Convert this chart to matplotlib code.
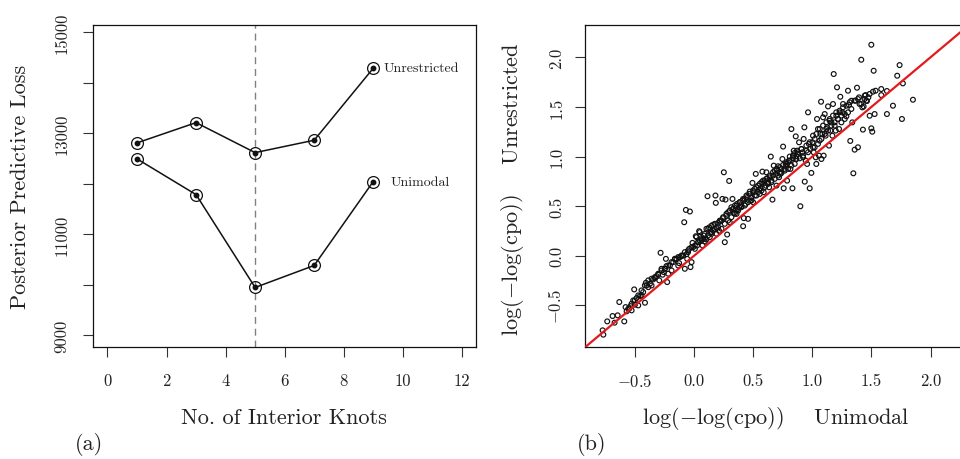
import matplotlib
matplotlib.use("Agg")
import matplotlib.pyplot as plt

plt.rcParams['font.family'] = ['cmr10', 'DejaVu Serif']
plt.rcParams['mathtext.fontset'] = 'cm'
plt.rcParams['axes.unicode_minus'] = True

# ---------------- Panel (a) data ----------------
knots = [1, 3, 5, 7, 9]
loss_unrestricted = [12808, 13210, 12615, 12861, 14288]
loss_unimodal = [12491, 11783, 9942, 10378, 12042]
xticks_a = [0, 2, 4, 6, 8, 10, 12]
yticks_a = [9000, 10000, 11000, 12000, 13000, 14000, 15000]
ylabels_a = ['9000', '', '11000', '', '13000', '', '15000']
selected_knots = 5

# ---------------- Panel (b) data ----------------
cpo_unimodal = [
    -0.773, -0.767, -0.734, -0.689, -0.672, -0.646, -0.632, -0.590, -0.579, -0.570,
    -0.548, -0.537, -0.528, -0.514, -0.506, -0.500, -0.486, -0.472, -0.458, -0.444,
    -0.430, -0.415, -0.407, -0.401, -0.387, -0.373, -0.359, -0.345, -0.331, -0.317,
    -0.303, -0.294, -0.283, -0.275, -0.266, -0.255, -0.247, -0.238, -0.233, -0.227,
    -0.218, -0.204, -0.190, -0.176, -0.162, -0.148, -0.134, -0.126, -0.120, -0.106,
    -0.092, -0.083, -0.078, -0.069, -0.064, -0.058, -0.050, -0.041, -0.035, -0.030,
    -0.021, -0.013, -0.007, 0.007, 0.015, 0.026, 0.035, 0.043, 0.049, 0.063,
    0.072, 0.083, 0.091, 0.105, 0.114, 0.119, 0.128, 0.139, 0.148, 0.162,
    0.176, 0.181, 0.184, 0.190, 0.204, 0.212, 0.218, 0.232, 0.240, 0.246,
    0.252, 0.260, 0.266, 0.274, 0.280, 0.288, 0.297, 0.302, 0.316, 0.325,
    0.330, 0.336, 0.345, 0.353, 0.359, 0.364, 0.373, 0.381, 0.387, 0.401,
    0.409, 0.415, 0.421, 0.429, 0.437, 0.443, 0.457, 0.466, 0.471, 0.477,
    0.485, 0.494, 0.499, 0.505, 0.513, 0.522, 0.528, 0.542, 0.550, 0.556,
    0.561, 0.570, 0.578, 0.584, 0.589, 0.598, 0.606, 0.612, 0.618, 0.626,
    0.635, 0.640, 0.649, 0.654, 0.663, 0.668, 0.674, 0.682, 0.691, 0.697,
    0.702, 0.711, 0.719, 0.725, 0.730, 0.739, 0.747, 0.753, 0.758, 0.767,
    0.775, 0.781, 0.787, 0.795, 0.803, 0.809, 0.815, 0.823, 0.832, 0.837,
    0.843, 0.851, 0.860, 0.865, 0.871, 0.879, 0.888, 0.894, 0.899, 0.908,
    0.916, 0.922, 0.927, 0.933, 0.936, 0.944, 0.950, 0.956, 0.964, 0.972,
    0.978, 0.984, 0.992, 1.001, 1.006, 1.012, 1.020, 1.029, 1.034, 1.040,
    1.048, 1.057, 1.062, 1.068, 1.074, 1.077, 1.085, 1.091, 1.096, 1.105,
    1.113, 1.119, 1.124, 1.133, 1.141, 1.147, 1.153, 1.161, 1.170, 1.175,
    1.181, 1.189, 1.198, 1.203, 1.209, 1.217, 1.226, 1.231, 1.237, 1.246,
    1.254, 1.260, 1.274, 1.288, 1.302, 1.310, 1.321, 1.330, 1.338, 1.347,
    1.358, 1.367, 1.378, 1.386, 1.395, 1.400, 1.414, 1.423, 1.428, 1.434,
    1.442, 1.451, 1.462, 1.474, 1.485, 1.499, 1.499, 1.507, 1.513, 1.519,
    1.527, 1.535, 1.583, 1.583, 1.631, 1.631, 1.682, 1.718, 1.738, 1.758,
    1.766, 1.851,
    0.021, 0.049, 0.077, 0.091, 0.105, 0.133, 0.148, 0.162, 0.176, 0.190,
    0.204, 0.218, 0.232, 0.246, 0.260, 0.274, 0.288, 0.302, 0.316, 0.330,
    0.345, 0.359, 0.373, 0.387, 0.401, 0.415, 0.429, 0.443, 0.457, 0.471,
    0.485, 0.499, 0.514, 0.528, 0.542, 0.556, 0.570, 0.584, 0.598, 0.612,
    0.626, 0.640, 0.654, 0.668, 0.682, 0.697, 0.711, 0.725, 0.739, 0.753,
    0.767, 0.781, 0.795, 0.809, 0.823, 0.837, 0.851, 0.865,
    0.837, 0.865, 0.879, 0.908, 0.922, 0.950, 0.964, 0.978, 1.006, 1.020,
    1.034, 1.048, 1.063, 1.077, 1.091, 1.105, 1.119, 1.133, 1.147, 1.161,
    1.175, 1.189, 1.203, 1.217, 1.231, 1.246, 1.260, 1.274, 1.288, 1.302,
    1.316, 1.330, 1.358, 1.386, 1.414, 1.443, 1.457, 1.485,
    -0.556, -0.528, -0.500, -0.472, -0.444, -0.416, -0.387, -0.359, -0.331, -0.303,
    -0.275, -0.247, -0.218, -0.190, -0.162, -0.134, -0.106, -0.078, -0.050, -0.021,
    0.007, 0.035, 0.063, 0.091, 0.119, 0.148,
]
cpo_unrestricted = [
    -0.751, -0.795, -0.661, -0.607, -0.674, -0.600, -0.466, -0.661, -0.517, -0.560,
    -0.533, -0.507, -0.550, -0.450, -0.339, -0.493, -0.426, -0.500, -0.406, -0.399,
    -0.366, -0.473, -0.272, -0.299, -0.316, -0.282, -0.299, -0.238, -0.225, -0.205,
    -0.191, -0.248, 0.030, -0.131, -0.191, -0.165, -0.131, -0.031, -0.104, -0.265,
    -0.181, -0.098, -0.148, -0.064, -0.037, -0.031, -0.098, -0.074, -0.014, -0.004,
    0.003, 0.338, -0.131, 0.462, 0.016, -0.031, 0.037, 0.070, 0.446, -0.114,
    -0.064, 0.130, 0.087, 0.070, 0.197, 0.104, 0.137, 0.248, 0.154, 0.177,
    0.104, 0.204, 0.144, 0.164, 0.600, 0.271, 0.285, 0.238, 0.221, 0.312,
    0.271, 0.607, 0.533, 0.278, 0.332, 0.251, 0.345, 0.355, 0.573, 0.379,
    0.841, 0.137, 0.566, 0.405, 0.214, 0.439, 0.754, 0.338, 0.489, 0.573,
    0.472, 0.432, 0.506, 0.456, 0.422, 0.523, 0.472, 0.489, 0.540, 0.499,
    0.556, 0.298, 0.379, 0.573, 0.523, 0.607, 0.372, 0.623, 0.647, 0.556,
    0.590, 0.734, 0.540, 0.640, 0.674, 0.825, 0.607, 0.707, 0.667, 0.623,
    0.680, 0.741, 0.848, 0.724, 0.640, 0.757, 0.707, 0.841, 0.781, 0.741,
    0.690, 0.791, 0.999, 0.757, 0.566, 0.808, 0.908, 0.858, 0.825, 0.707,
    0.875, 0.902, 0.791, 0.841, 0.825, 0.875, 0.975, 1.100, 0.680, 0.875,
    0.925, 0.908, 0.757, 0.942, 0.959, 0.999, 0.875, 1.277, 0.680, 1.009,
    1.059, 1.036, 1.203, 0.975, 1.059, 1.026, 1.143, 0.982, 0.499, 1.076,
    1.042, 0.992, 1.177, 1.294, 0.747, 0.959, 1.059, 0.925, 1.445, 1.126,
    0.680, 1.076, 0.835, 1.143, 1.210, 1.042, 1.093, 0.992, 0.925, 1.378,
    1.277, 1.009, 1.160, 1.227, 1.552, 0.975, 1.227, 1.395, 1.009, 1.428,
    1.210, 1.277, 1.294, 1.505, 1.110, 1.361, 1.261, 1.344, 1.210, 1.529,
    1.831, 1.311, 1.261, 1.411, 1.697, 1.378, 1.277, 1.445, 1.602, 1.344,
    1.445, 1.529, 1.378, 1.405, 1.663, 1.519, 1.157, 1.562, 1.344, 0.831,
    1.069, 1.562, 1.693, 1.093, 1.596, 1.529, 1.975, 1.495, 1.271, 1.505,
    1.579, 1.619, 1.559, 1.596, 1.411, 2.126, 1.284, 1.250, 1.653, 1.864,
    1.428, 1.663, 1.680, 1.619, 1.428, 1.660, 1.512, 1.814, 1.921, 1.378,
    1.737, 1.572,
    0.188, 0.238, 0.171, 0.221, 0.272, 0.188, 0.305, 0.255, 0.322, 0.221,
    0.288, 0.355, 0.272, 0.389, 0.322, 0.423, 0.355, 0.456, 0.389, 0.473,
    0.423, 0.506, 0.456, 0.540, 0.490, 0.573, 0.506, 0.590, 0.540, 0.624,
    0.557, 0.657, 0.607, 0.691, 0.641, 0.724, 0.657, 0.758, 0.691, 0.775,
    0.724, 0.808, 0.741, 0.842, 0.775, 0.875, 0.808, 0.892, 0.835, 0.915,
    0.858, 0.942, 0.875, 0.959, 0.909, 0.983, 0.926, 1.003,
    1.009, 0.976, 1.043, 1.076, 1.009, 1.110, 1.043, 1.144, 1.093, 1.177,
    1.227, 1.127, 1.278, 1.177, 1.311, 1.227, 1.345, 1.261, 1.378, 1.311,
    1.412, 1.345, 1.445, 1.378, 1.462, 1.412, 1.496, 1.429, 1.512, 1.445,
    1.546, 1.479, 1.563, 1.579, 1.529, 1.613, 1.563, 1.630,
    -0.533, -0.483, -0.449, -0.399, -0.349, -0.298, -0.248, -0.231, -0.215, -0.181,
    -0.148, -0.131, -0.097, -0.064, -0.030, -0.013, 0.003, 0.037, 0.054, 0.087,
    0.104, 0.138, 0.154, 0.171, 0.205, 0.238,
]
ticks_b = [-0.5, 0.0, 0.5, 1.0, 1.5, 2.0]
ticklabels_b = ['$-$0.5', '0.0', '0.5', '1.0', '1.5', '2.0']
lim_b = (-0.922, 2.325)

TXT = '#222222'
W, H = 960, 460
fig = plt.figure(figsize=(W / 100, H / 100), dpi=100)

def box(l, t, r, b):
    return [l / W, 1 - b / H, (r - l) / W, (b - t) / H]

# ---------------- Panel (a) ----------------
ax = fig.add_axes(box(93.3, 26, 476, 348.3))
ax.axvline(selected_knots, color='#808080', lw=1.0, ls=(0, (5, 3.5)), zorder=1)
for ys in (loss_unrestricted, loss_unimodal):
    ax.plot(knots, ys, color='#111111', lw=1.1, zorder=2)
    ax.plot(knots, ys, ls='none', marker='o', ms=8.5, mfc='none', mec='#111111', mew=0.9, zorder=3)
    ax.plot(knots, ys, ls='none', marker='o', ms=3.2, mfc='#111111', mec='#111111', zorder=4)
ax.text(9.35, loss_unrestricted[-1], 'Unrestricted', fontsize=10, color=TXT, va='center', ha='left')
ax.text(9.6, loss_unimodal[-1], 'Unimodal', fontsize=10, color=TXT, va='center', ha='left')
ax.set_xlim(-0.48, 12.48)
ax.set_ylim(8756, 15145)
ax.set_xticks(xticks_a)
ax.set_xticklabels([str(v) for v in xticks_a])
ax.set_yticks(yticks_a)
ax.set_yticklabels(ylabels_a, rotation=90, va='center')
ax.tick_params(axis='both', length=7, width=0.8, color='#333333', labelsize=12, labelcolor=TXT)
ax.tick_params(axis='x', pad=11)
ax.tick_params(axis='y', pad=10)
for s in ax.spines.values():
    s.set_linewidth(0.9)
    s.set_color('#111111')

fig.text(20 / W, 1 - 187 / H, 'Posterior Predictive Loss', rotation=90, ha='center', va='center',
         fontsize=16, color=TXT)
fig.text(284 / W, 1 - 418 / H, 'No. of Interior Knots', ha='center', va='center', fontsize=16, color=TXT)
fig.text(89 / W, 1 - 445 / H, '(a)', ha='center', va='center', fontsize=16, color=TXT)

# ---------------- Panel (b) ----------------
bx = fig.add_axes(box(585, 26, 969, 348.3))
bx.scatter(cpo_unimodal, cpo_unrestricted, s=12, facecolors='none', edgecolors='#111111',
           linewidths=0.85, zorder=2)
bx.axline((0, 0), slope=1, color='#e31a1c', lw=1.6, zorder=3)
bx.set_xlim(*lim_b)
bx.set_ylim(*lim_b)
bx.set_xticks(ticks_b)
bx.set_xticklabels(ticklabels_b)
bx.set_yticks(ticks_b)
bx.set_yticklabels(ticklabels_b, rotation=90, va='center')
bx.tick_params(axis='both', length=7, width=0.8, color='#333333', labelsize=12, labelcolor=TXT)
bx.tick_params(axis='x', pad=11)
bx.tick_params(axis='y', pad=8)
for s in bx.spines.values():
    s.set_linewidth(0.9)
    s.set_color('#111111')

fig.text(513 / W, 1 - 189 / H, 'log($-$log(cpo))    Unrestricted', rotation=90, ha='center',
         va='center', fontsize=16, color=TXT)
fig.text(776 / W, 1 - 419 / H, 'log($-$log(cpo))    Unimodal', ha='center', va='center',
         fontsize=16, color=TXT)
fig.text(592 / W, 1 - 445 / H, '(b)', ha='center', va='center', fontsize=16, color=TXT)

fig.savefig('out.png', dpi=100)
